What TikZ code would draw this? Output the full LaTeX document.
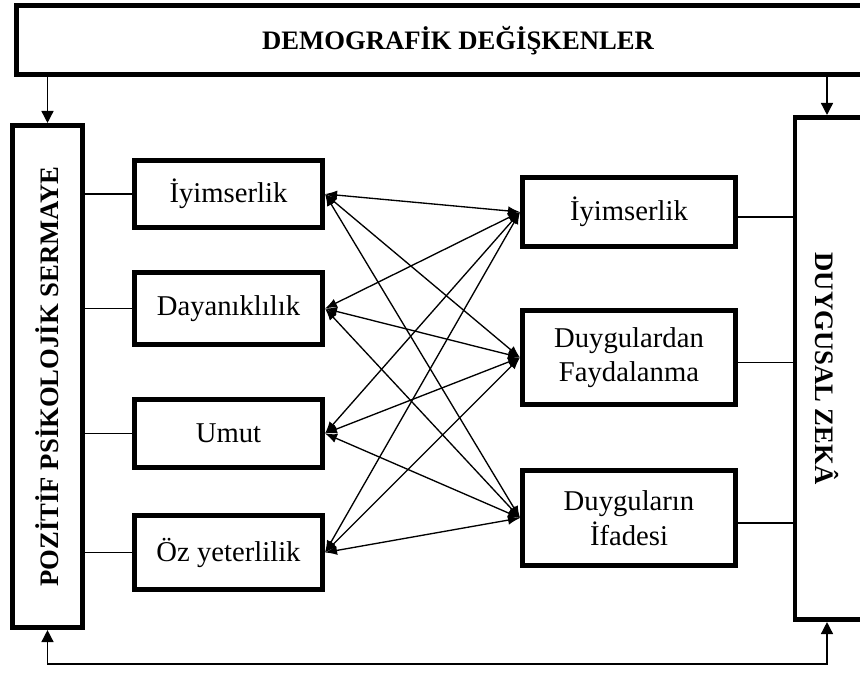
\documentclass[tikz,border=0pt]{standalone}
\usepackage{fontspec}
\setmainfont{Liberation Serif}
\usetikzlibrary{arrows.meta}
\usetikzlibrary{positioning}
\usetikzlibrary{calc}

\tikzset{
  bigbox/.style={draw, line width=3.5pt, inner sep=0pt},
  smallbox/.style={draw, line width=3.5pt, inner sep=0pt, align=center, font=\fontsize{21.5}{26}\selectfont},
  capstext/.style={font=\fontsize{20}{24}\selectfont\bfseries},
  link/.style={line width=1.1pt},
  dblarrow/.style={line width=1pt, {Latex[length=9pt,width=7pt]}-{Latex[length=9pt,width=7pt]}},
  downarrow/.style={line width=1.1pt, -{Triangle[length=9pt,width=9pt]}},
  bothtri/.style={line width=1.1pt, {Triangle[length=9pt,width=9pt]}-{Triangle[length=9pt,width=9pt]}}
}

\begin{document}
\begin{tikzpicture}[x=0.75pt,y=0.75pt,yscale=-1,xscale=1]
\useasboundingbox (0,0) rectangle (860,672);
\clip (0,0) rectangle (860,672);

%Shape: Rectangle [id:demo] (runs past the right edge)
\node[bigbox, minimum width=682pt, minimum height=52pt] (demo) at (471,40) {};
% Text Node
\node[capstext] (demotext) at (458,41) {DEMOGRAFİK DEĞİŞKENLER};

%Shape: Rectangle [id:pps]
\node[bigbox, minimum width=52.8pt, minimum height=376.8pt] (pps) at (47.5,376.5) {};
% Text Node
\node[capstext, rotate=90] (ppstext) at (pps.center) {POZİTİF PSİKOLOJİK SERMAYE};

%Shape: Rectangle [id:dz] (runs past the right edge)
\node[bigbox, minimum width=60pt, minimum height=376.8pt] (dz) at (835,368.5) {};
\coordinate (dzmid) at (827,368.5);
% Text Node
\node[capstext, rotate=-90] (dztext) at (dzmid) {DUYGUSAL ZEKÂ};

%Left boxes
\node[smallbox, minimum width=141.3pt, minimum height=50.5pt] (iyiL) at (228.5,194) {İyimserlik};
\node[smallbox, minimum width=141.3pt, minimum height=54.3pt] (dayL) at (228.5,308.5) {Dayanıklılık};
\node[smallbox, minimum width=141.3pt, minimum height=51.3pt] (umutL) at (228.5,433.5) {Umut};
\node[smallbox, minimum width=141.3pt, minimum height=55.8pt] (ozL) at (228.5,552.5) {Öz yeterlilik};

%Right boxes
\node[smallbox, minimum width=160pt, minimum height=52pt] (iyiR) at (629,212) {İyimserlik};
\node[smallbox, minimum width=160pt, minimum height=70.8pt] (faydR) at (629,357.5) {Duygulardan\\Faydalanma};
\node[smallbox, minimum width=160pt, minimum height=71.5pt] (ifadeR) at (629,518) {Duyguların\\İfadesi};

%Arrows from top
\draw[downarrow] (demo.south -| pps.north) -- (pps.north);
\draw[downarrow] (demo.south -| dzmid) -- (dz.north -| dzmid);

%Bottom line
\draw[bothtri] (pps.south) -- ++(0,34) -| (dz.south -| dzmid);

%Links to the tall boxes
\foreach \b in {iyiL,dayL,umutL,ozL}
  \draw[link] (pps.east |- \b.west) -- (\b.west);
\foreach \b in {iyiR,faydR,ifadeR}
  \draw[link] ($(\b.east)+(0,5)$) -- ($(\b.east -| dz.west)+(0,5)$);

%Cross arrows
\foreach \a in {iyiL,dayL,umutL,ozL}
  \foreach \b in {iyiR,faydR,ifadeR}
    \draw[dblarrow] (\a.east) -- (\b.west);

\end{tikzpicture}
\end{document}
